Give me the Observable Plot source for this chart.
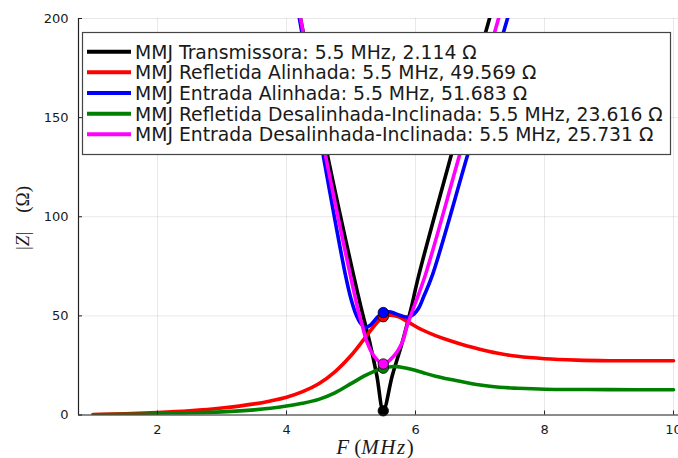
<!DOCTYPE html>
<html>
<head>
<meta charset="utf-8">
<script src="https://cdn.jsdelivr.net/npm/d3@7"></script>
<script src="https://cdn.jsdelivr.net/npm/@observablehq/plot@0.6"></script>
<style>
  body { margin: 0; background: #fff; }
  #chart { width: 678px; height: 458px; }
</style>
</head>
<body>
<div id="chart"></div>
<script>
// Impedance magnitude |Z| versus frequency for the five MMJ configurations
const seriesNames = [
  "MMJ Transmissora",
  "MMJ Refletida Alinhada",
  "MMJ Entrada Alinhada",
  "MMJ Refletida Desalinhada-Inclinada",
  "MMJ Entrada Desalinhada-Inclinada"
];
const seriesColors = ["#000000", "#ff0000", "#0000ff", "#008000", "#ff00ff"];

// Marked point at the operating frequency
const markerF = 5.5;
const markerZ = [2.114, 49.569, 51.683, 23.616, 25.731];

// Sampled curves (F in MHz, |Z| in ohm)
const transmissoraF = [4.10, 4.217, 4.636, 5.04, 5.16, 5.29, 5.40, 5.5, 5.64, 5.795, 5.93, 6.05, 6.553, 7.147, 7.26];
const transmissoraZ = [218, 200, 131, 70.4, 53.6, 36.7, 19.9, 2.114, 19.9, 36.7, 53.6, 70.4, 131, 200, 213];

const refletidaAlinF = [1.0, 1.5, 2.0, 2.5, 3.0, 3.5, 3.75, 4.0, 4.25, 4.5, 4.75, 5.0, 5.2, 5.35, 5.5, 5.62, 5.75, 5.9, 6.1, 6.3, 6.55, 6.8, 7.06, 7.3, 7.58, 8.0, 8.5, 9.0, 9.5, 10.0];
const refletidaAlinZ = [0.2, 0.6, 1.2, 2.1, 3.5, 5.6, 7.1, 9.0, 11.8, 15.8, 21.8, 30.0, 38.2, 44.5, 49.569, 50.4, 49.4, 46.6, 43.0, 40.2, 37.3, 34.8, 32.7, 31.0, 29.6, 28.4, 27.7, 27.4, 27.35, 27.4];

const entradaAlinF = [4.08, 4.20, 4.569, 4.915, 5.0, 5.08, 5.15, 5.22, 5.3, 5.4, 5.5, 5.6, 5.7, 5.8, 5.89, 5.97, 6.05, 6.13, 6.26, 6.806, 7.426, 7.55];
const entradaAlinZ = [220, 200, 131, 70.4, 58.5, 50.5, 46.2, 44.3, 45.3, 49.0, 51.683, 52.0, 51.0, 49.8, 49.4, 50.8, 54.0, 60.0, 70.4, 131, 200, 213];

const refletidaDesF = [1.0, 1.5, 2.0, 2.5, 3.0, 3.5, 3.75, 4.0, 4.25, 4.5, 4.75, 5.0, 5.2, 5.35, 5.5, 5.66, 5.8, 5.95, 6.13, 6.31, 6.55, 6.8, 7.06, 7.3, 7.58, 8.0, 8.5, 9.0, 10.0];
const refletidaDesZ = [0.1, 0.3, 0.6, 1.0, 1.6, 2.6, 3.4, 4.5, 5.9, 7.9, 11.2, 15.8, 19.6, 21.9, 23.616, 24.5, 24.0, 22.9, 21.2, 19.6, 17.9, 16.3, 14.9, 14.0, 13.5, 13.0, 12.85, 12.8, 12.7];

const entradaDesF = [4.10, 4.217, 4.605, 4.99, 5.105, 5.174, 5.25, 5.35, 5.5, 5.67, 5.794, 5.871, 5.964, 6.15, 6.682, 7.287, 7.40];
const entradaDesZ = [218, 200, 131, 70.4, 53.6, 45.2, 36.7, 30.0, 25.731, 30.0, 36.7, 45.2, 53.6, 70.4, 131, 200, 213];

const xTicks = [2, 4, 6, 8, 10];
const yTicks = [0, 50, 100, 150, 200];
const xDomain = [0.775, 10.077];
const yDomain = [0, 200];

const curveF = [transmissoraF, refletidaAlinF, entradaAlinF, refletidaDesF, entradaDesF];
const curveZ = [transmissoraZ, refletidaAlinZ, entradaAlinZ, refletidaDesZ, entradaDesZ];

const curves = curveF.map((fs, i) => fs.map((f, j) => ({F: f, Z: curveZ[i][j], series: seriesNames[i]})));
const markers = seriesNames.map((name, i) => ({F: markerF, Z: markerZ[i], series: name, color: seriesColors[i]}));

const W = 678, H = 458;
const mTop = 18, mBottom = 43.5, mLeft = 78, mRight = 0;
const innerW = W - mLeft - mRight, innerH = H - mTop - mBottom;

const chart = Plot.plot({
  width: W,
  height: H,
  marginTop: mTop,
  marginBottom: mBottom,
  marginLeft: mLeft,
  marginRight: mRight,
  style: {fontFamily: "DejaVu Sans", fontSize: "13px", color: "#1a1a1a", background: "#fff", overflow: "visible"},
  x: {domain: xDomain, label: null},
  y: {domain: yDomain, label: null},
  marks: [
    Plot.gridX(xTicks, {stroke: "#000", strokeOpacity: 0.09}),
    Plot.gridY(yTicks, {stroke: "#000", strokeOpacity: 0.09}),
    ...curves.map((rows, i) => Plot.line(rows, {
      x: "F", y: "Z", stroke: seriesColors[i], strokeWidth: 3.6,
      curve: "catmull-rom", clip: true
    })),
    Plot.dot(markers, {x: "F", y: "Z", fill: "color", r: 5.2, stroke: "#000", strokeWidth: 0.8}),
    Plot.ruleY([yDomain[0]], {stroke: "#222", strokeWidth: 1.2}),
    Plot.ruleX([xDomain[0]], {stroke: "#222", strokeWidth: 1.2}),
    Plot.tickX(xTicks, {x: d => d, stroke: "#222", insetTop: innerH - 4}),
    Plot.tickY(yTicks, {y: d => d, stroke: "#222", insetRight: innerW - 4}),
    Plot.axisX(xTicks, {tickSize: 0, tickPadding: 10, fontSize: 13}),
    Plot.axisY(yTicks, {tickSize: 0, tickPadding: 10, fontSize: 13})
  ]
});

document.getElementById("chart").appendChild(chart);

const svg = d3.select(chart);

// Axis titles in a math-like italic serif
const xl = svg.append("text")
  .attr("x", 375).attr("y", 454)
  .attr("text-anchor", "middle")
  .style("font-family", "'Liberation Serif', 'DejaVu Serif', serif")
  .style("font-size", "21px").attr("fill", "#1a1a1a");
xl.append("tspan").style("font-style", "italic").text("F");
xl.append("tspan").text(" (");
xl.append("tspan").style("font-style", "italic").style("letter-spacing", "1.5px").text("MHz");
xl.append("tspan").text(")");

const yl = svg.append("text")
  .attr("transform", "translate(29,218) rotate(-90)")
  .attr("text-anchor", "middle")
  .style("font-family", "'Liberation Serif', 'DejaVu Serif', serif")
  .style("font-size", "19px").attr("fill", "#1a1a1a");
yl.append("tspan").text("|");
yl.append("tspan").style("font-style", "italic").text("Z");
yl.append("tspan").text("|\u2003(\u03A9)");

// Legend box
const lg = svg.append("g").attr("class", "legend").attr("text-anchor", "start");
const boxX = 82.5, boxY = 32.5, boxW = 588, boxH = 122;
lg.append("rect")
  .attr("x", boxX).attr("y", boxY).attr("width", boxW).attr("height", boxH)
  .attr("fill", "#fff").attr("stroke", "#444").attr("stroke-width", 1.2);
const rowStep = 20.65, firstRow = 51.7;
seriesNames.forEach((name, i) => {
  const cy = firstRow + i * rowStep;
  lg.append("line")
    .attr("x1", 87).attr("x2", 131).attr("y1", cy).attr("y2", cy)
    .attr("stroke", seriesColors[i]).attr("stroke-width", 4);
  lg.append("text")
    .attr("x", 135).attr("y", cy + 6.9)
    .attr("text-anchor", "start")
    .style("font-family", "DejaVu Sans").style("font-size", "18.8px")
    .attr("fill", "#1a1a1a")
    .text(`${name}: ${markerF} MHz, ${markerZ[i].toFixed(3)} \u03A9`);
});
</script>
</body>
</html>
